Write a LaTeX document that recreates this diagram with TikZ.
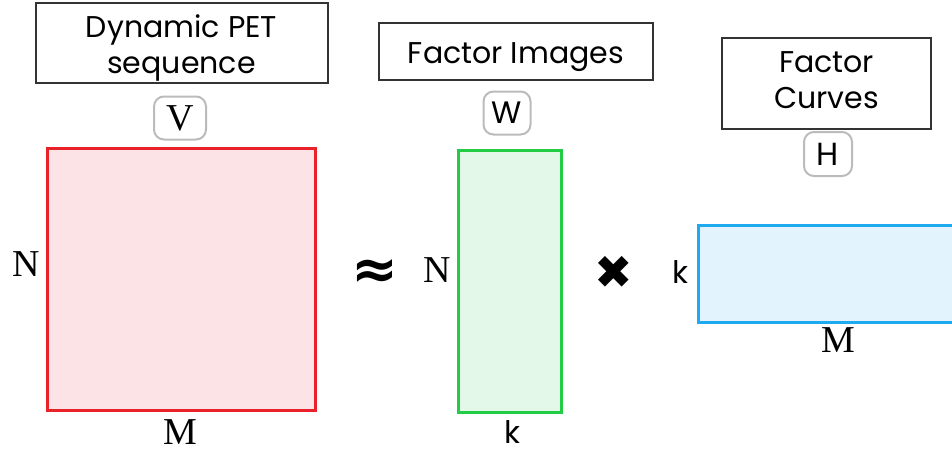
\documentclass[tikz,border=0pt]{standalone}
\usepackage{fontspec}
\setmainfont{Liberation Serif}
\newfontfamily\gothic{Poppins}
\newfontfamily\djv{DejaVu Sans}
\definecolor{redS}{HTML}{E8212B}
\definecolor{redF}{HTML}{FCE4E6}
\definecolor{grnS}{HTML}{22CC44}
\definecolor{grnF}{HTML}{E3F8E9}
\definecolor{bluS}{HTML}{1FA9F0}
\definecolor{bluF}{HTML}{E2F3FD}
\definecolor{boxS}{HTML}{333333}
\definecolor{tagS}{HTML}{BBBBBB}
\newcommand{\ttlines}[2]{\raisebox{#1}[\height][\depth]{\begin{tabular}{@{}c@{}}#2\end{tabular}}}
\begin{document}
\begin{tikzpicture}[x=1pt,y=-1pt,
  titlebox/.style={draw=boxS,line width=2pt,fill=white,align=center,inner sep=0pt,
    font=\gothic\fontsize{30}{36}\selectfont},
  tagbox/.style={draw=tagS,line width=2pt,rounded corners=10pt,inner sep=0pt},
  serifl/.style={font=\fontsize{38}{40}\selectfont,inner sep=0pt},
  sansl/.style={font=\gothic\fontsize{31}{32}\selectfont,inner sep=0pt},
  mat/.style={line width=3pt,inner sep=0pt}]
\useasboundingbox (0,0) rectangle (952,453);
% title boxes
\node[titlebox,minimum width=292pt,minimum height=80pt] (t1) at (181.5,43) {\ttlines{-5pt}{Dynamic PET\\sequence}};
\node[titlebox,minimum width=274pt,minimum height=57pt] (t2) at (516,51.5) {\ttlines{-5pt}{Factor Images}};
\node[titlebox,minimum width=209pt,minimum height=91pt] (t3) at (826.5,83.5) {\ttlines{0pt}{Factor\\Curves}};
% tags
\node[tagbox,minimum width=52pt,minimum height=43pt,font=\fontsize{38}{38}\selectfont] (tv) at (180,118) {V};
\node[tagbox,minimum width=47pt,minimum height=43pt,font=\gothic\fontsize{31}{31}\selectfont] (tw) at (507,113) {W};
\node[tagbox,minimum width=48pt,minimum height=44pt,font=\gothic\fontsize{32}{32}\selectfont] (th) at (828,154) {H};
% matrices
\node[mat,draw=redS,fill=redF,minimum width=268pt,minimum height=262pt] (mv) at (181,279) {};
\node[mat,draw=grnS,fill=grnF,minimum width=103pt,minimum height=262pt] (mw) at (509.5,281) {};
\coordinate (hTR) at (953,225);
\coordinate (hTL) at (698,225);
\coordinate (hBL) at (698,322);
\coordinate (hBR) at (953,322);
\fill[bluF] (hTL) rectangle (hBR);
\draw[bluS,line width=3pt] (hTR) -- (hTL) -- (hBL) -- (hBR);
% labels
\node[serifl] (nv) at (26,264) {N};
\node[serifl] (mvl) at (180,432) {M};
\node[font=\djv\bfseries\fontsize{56}{56}\selectfont,inner sep=0pt] (approx) at (375,274) {≈};
\node[serifl] (nw) at (437,270) {N};
\node[font=\djv\fontsize{46}{46}\selectfont,inner sep=0pt] (times) at (614,272) {✖};
\node[sansl] (kh) at (680,272) {k};
\node[sansl] (kw) at (512,432) {k};
\node[serifl] (mh) at (838,340) {M};
\end{tikzpicture}
\end{document}
